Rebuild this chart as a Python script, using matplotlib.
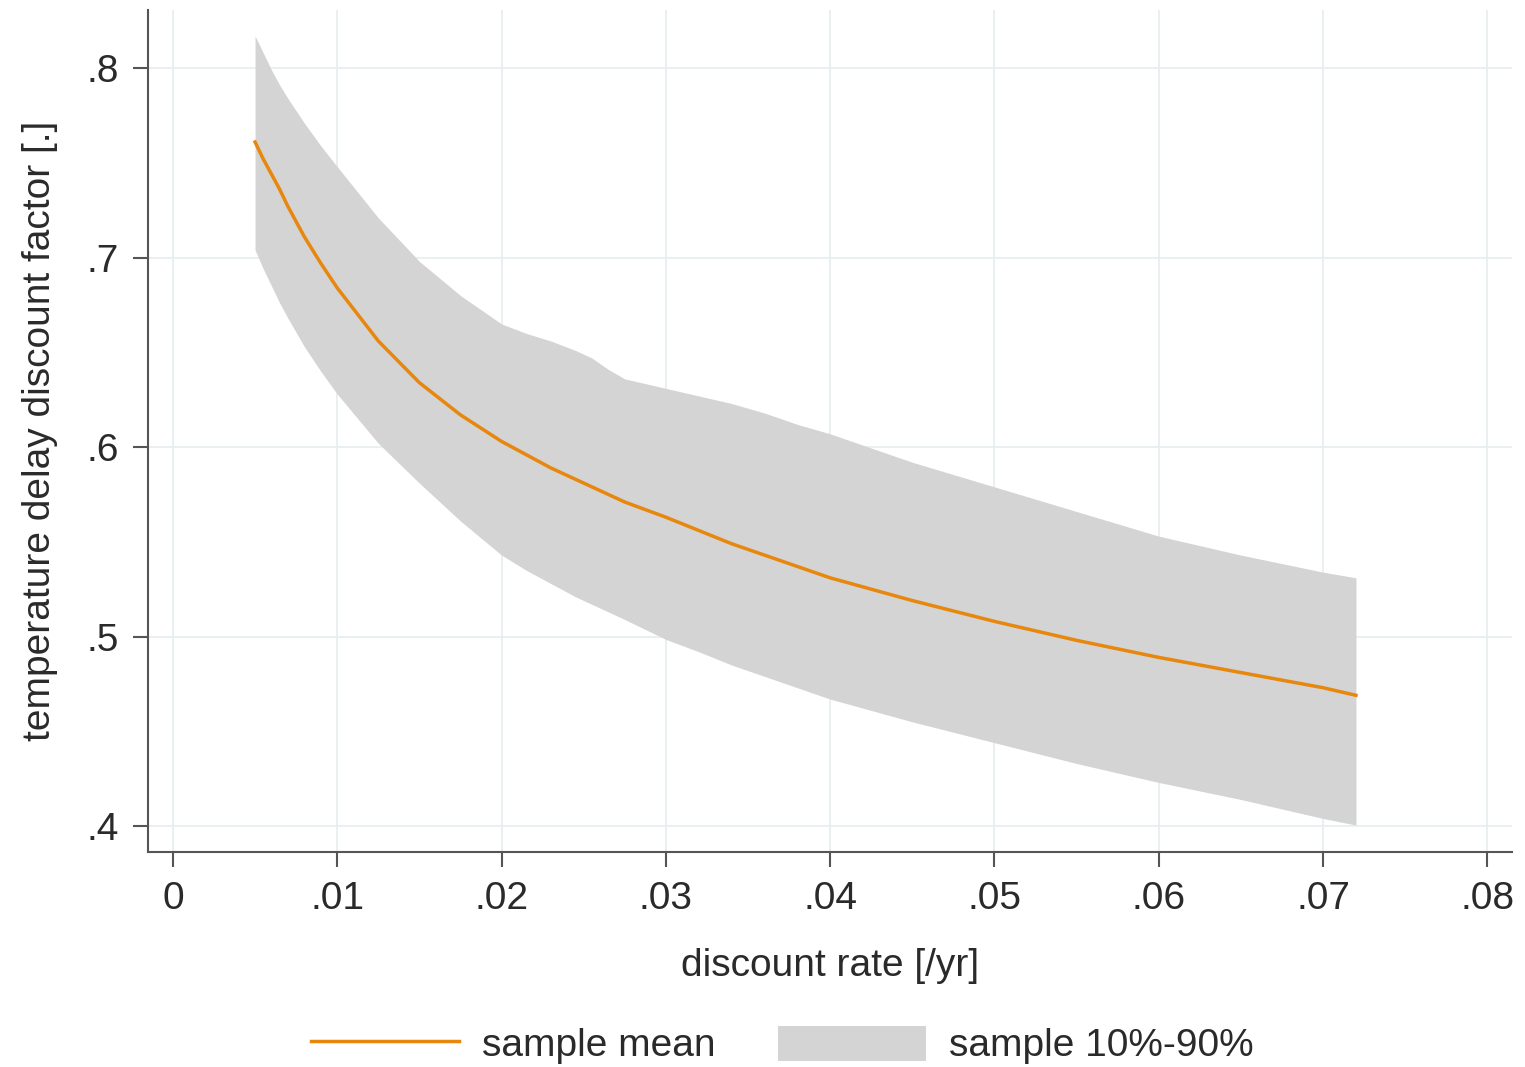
import matplotlib
matplotlib.use("Agg")
import matplotlib.pyplot as plt
from matplotlib.patches import Patch
from matplotlib.lines import Line2D

plt.rcParams['font.family'] = ['Liberation Sans', 'DejaVu Sans']

# discount rate [/yr]
rate = [0.005, 0.0055, 0.006, 0.0065, 0.007, 0.008, 0.009, 0.010, 0.0125, 0.015, 0.0175,
        0.020, 0.0215, 0.023, 0.0245, 0.0255, 0.0265, 0.0275, 0.030, 0.032, 0.034,
        0.036, 0.038, 0.040, 0.045, 0.050, 0.055, 0.060, 0.065, 0.070, 0.072]

mean = [0.761, 0.752, 0.744, 0.736, 0.727, 0.711, 0.697, 0.684, 0.656, 0.634, 0.617,
        0.603, 0.596, 0.589, 0.583, 0.579, 0.575, 0.571, 0.563, 0.556, 0.549,
        0.543, 0.537, 0.531, 0.519, 0.508, 0.498, 0.489, 0.481, 0.473, 0.469]

p90 = [0.817, 0.808, 0.799, 0.791, 0.784, 0.771, 0.759, 0.748, 0.721, 0.698, 0.680,
       0.665, 0.660, 0.656, 0.651, 0.647, 0.641, 0.636, 0.631, 0.627, 0.623,
       0.618, 0.612, 0.607, 0.592, 0.579, 0.566, 0.553, 0.543, 0.534, 0.531]

p10 = [0.704, 0.694, 0.685, 0.676, 0.668, 0.653, 0.640, 0.628, 0.602, 0.581, 0.561,
       0.543, 0.535, 0.528, 0.521, 0.517, 0.513, 0.509, 0.4985, 0.492, 0.485,
       0.479, 0.473, 0.467, 0.455, 0.444, 0.433, 0.423, 0.414, 0.404, 0.4005]

xticks = [0, 0.01, 0.02, 0.03, 0.04, 0.05, 0.06, 0.07, 0.08]
xticklabels = ["0", ".01", ".02", ".03", ".04", ".05", ".06", ".07", ".08"]
yticks = [0.4, 0.5, 0.6, 0.7, 0.8]
yticklabels = [".4", ".5", ".6", ".7", ".8"]

orange = "#e8870e"
band = "#d4d4d4"
txt = "#2a2a2a"
spine = "#555555"

fig = plt.figure(figsize=(15.25, 10.67), dpi=100)
ax = fig.add_axes([0.097, 0.2015, 0.8945, 0.789])

ax.fill_between(rate, p10, p90, color=band, linewidth=0, zorder=2)
ax.plot(rate, mean, color=orange, linewidth=2.5, zorder=3)

ax.set_xlim(-0.00152, 0.0815)
ax.set_ylim(0.3863, 0.8306)
ax.set_xticks(xticks)
ax.set_xticklabels(xticklabels)
ax.set_yticks(yticks)
ax.set_yticklabels(yticklabels)

ax.grid(True, color="#e8eef0", linewidth=1.3, zorder=0)
ax.set_axisbelow(True)
for s in ("top", "right"):
    ax.spines[s].set_visible(False)
for s in ("left", "bottom"):
    ax.spines[s].set_color(spine)
    ax.spines[s].set_linewidth(1.5)

ax.tick_params(axis="both", length=11, width=1.5, color=spine,
               labelsize=28, labelcolor=txt, pad=10)

ax.set_xlabel("discount rate [/yr]", fontsize=28, color=txt, labelpad=22)
ax.set_ylabel("temperature delay discount factor [.]", fontsize=28, color=txt, labelpad=20)

handles = [Line2D([0], [0], color=orange, linewidth=2.5),
           Patch(facecolor=band, edgecolor="none")]
fig.legend(handles, ["sample mean", "sample 10%-90%"], loc="center",
           bbox_to_anchor=(0.513, 0.0205), ncol=2, frameon=False,
           fontsize=28, handlelength=3.8, handleheight=1.0,
           handletextpad=0.6, columnspacing=1.6, labelcolor=txt)

fig.savefig("out.png", dpi=100, facecolor="white")
